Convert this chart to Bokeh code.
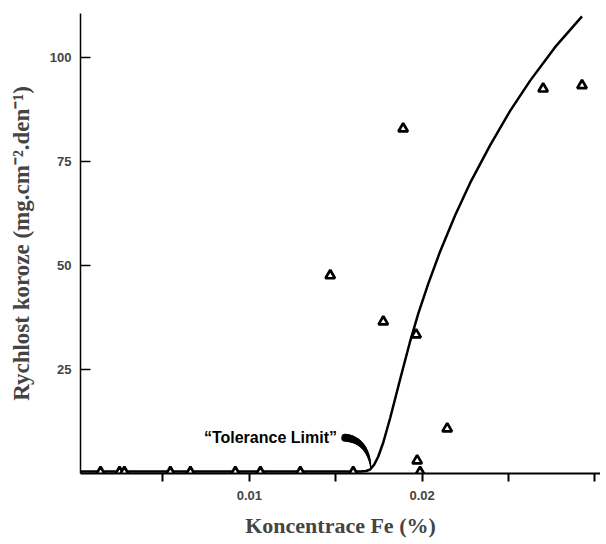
from bokeh.plotting import figure
from bokeh.models import Range1d, FixedTicker
from bokeh.core.properties import value
from bokeh.embed import file_html
from bokeh.resources import INLINE

# measured points (Fe concentration %, corrosion rate)
fe_pct = [0.00139, 0.00249, 0.00277, 0.00543, 0.00659, 0.00919, 0.01064, 0.01295, 0.01601,
          0.01468, 0.01775, 0.01890, 0.01965, 0.02145, 0.01971, 0.01988, 0.02700, 0.02925]
rate = [0.3, 0.3, 0.3, 0.3, 0.3, 0.3, 0.3, 0.3, 0.3,
        47.6, 36.5, 82.9, 33.4, 10.8, 3.1, 0.3, 92.5, 93.3]

# fitted trend curve
curve_fe = [0.00023, 0.01006, 0.01642, 0.01676, 0.01699, 0.01723, 0.01746, 0.01775, 0.01815,
            0.01873, 0.01931, 0.01977, 0.02035, 0.02104, 0.02191, 0.02277, 0.02393, 0.02509,
            0.02624, 0.02769, 0.02925]
curve_rate = [0.5, 0.5, 0.5, 0.6, 0.96, 2.16, 4.09, 7.45, 13.34,
              22.72, 31.85, 38.39, 45.6, 53.4, 62.1, 69.8, 78.9, 87.2,
              94.4, 102.5, 109.9]

x_ticks = [0.005, 0.01, 0.015, 0.02, 0.025, 0.03]
x_tick_labels = ["", "0.01", "", "0.02", "", ""]
y_ticks = [25, 50, 75, 100]

# annotation
ann_text = "\u201cTolerance Limit\u201d"
ann_x = 0.01122
ann_y = 8.65
ptr_x = [0.01555, 0.01642, 0.01694, 0.01702]  # start, c1, c2, end
ptr_y = [8.6, 8.3, 5.5, 1.6]

p = figure(width=600, height=543, output_backend="svg", toolbar_location=None,
           x_range=Range1d(0.00023, 0.03032), y_range=Range1d(0, 110.6),
           min_border_left=80, min_border_right=0, min_border_top=13, min_border_bottom=70)
p.outline_line_color = None
p.grid.visible = False
p.background_fill_color = "white"

p.line(curve_fe, curve_rate, line_color="black", line_width=2.5, line_join="round")
p.scatter(fe_pct, rate, marker="triangle", size=9.5, fill_color="white",
          line_color="black", line_width=2.7)

# tapered pointer along a cubic bezier
n = 14
xs0, ys0, xs1, ys1, lw = [], [], [], [], []
def bez(t, c):
    return ((1 - t) ** 3 * c[0] + 3 * (1 - t) ** 2 * t * c[1]
            + 3 * (1 - t) * t ** 2 * c[2] + t ** 3 * c[3])
for i in range(n):
    t0, t1 = i / n, (i + 1) / n
    xs0.append(bez(t0, ptr_x)); ys0.append(bez(t0, ptr_y))
    xs1.append(bez(t1, ptr_x)); ys1.append(bez(t1, ptr_y))
    lw.append(8.0 - 6.5 * (i / (n - 1)))
p.segment(xs0, ys0, xs1, ys1, line_color="black", line_width=lw, line_cap="round")

p.text([ann_x], [ann_y], text=[ann_text], text_font=value("Liberation Sans"),
       text_font_style="bold", text_font_size="16px", text_align="center",
       text_baseline="middle", text_color="black")

xa = p.xaxis[0]
xa.ticker = FixedTicker(ticks=x_ticks)
xa.major_label_overrides = {t: l for t, l in zip(x_ticks, x_tick_labels)}
xa.minor_tick_line_color = None
xa.major_tick_in = 0
xa.major_tick_out = 8
xa.major_tick_line_width = 2
xa.axis_line_width = 2
xa.major_label_standoff = 9
xa.major_label_text_font = "Liberation Sans"
xa.major_label_text_font_style = "bold"
xa.major_label_text_font_size = "13px"
xa.axis_label = "Koncentrace Fe (%)"
xa.axis_label_text_font = "Liberation Serif"
xa.axis_label_text_font_style = "bold"
xa.axis_label_text_font_size = "22px"
xa.axis_label_standoff = 10

ya = p.yaxis[0]
ya.ticker = FixedTicker(ticks=y_ticks)
ya.minor_tick_line_color = None
ya.major_tick_in = 10
ya.major_tick_out = 0
ya.major_tick_line_width = 1.5
ya.axis_line_width = 1.5
ya.major_label_standoff = 9
ya.major_label_text_font = "Liberation Sans"
ya.major_label_text_font_style = "bold"
ya.major_label_text_font_size = "13px"
ya.axis_label = "Rychlost koroze (mg.cm\u207b\u00b2.den\u207b\u00b9)"
ya.axis_label_text_font = "Liberation Serif"
ya.axis_label_text_font_style = "bold"
ya.axis_label_text_font_size = "23px"
ya.axis_label_standoff = 13

open("out.html", "w").write(file_html(p, INLINE))
